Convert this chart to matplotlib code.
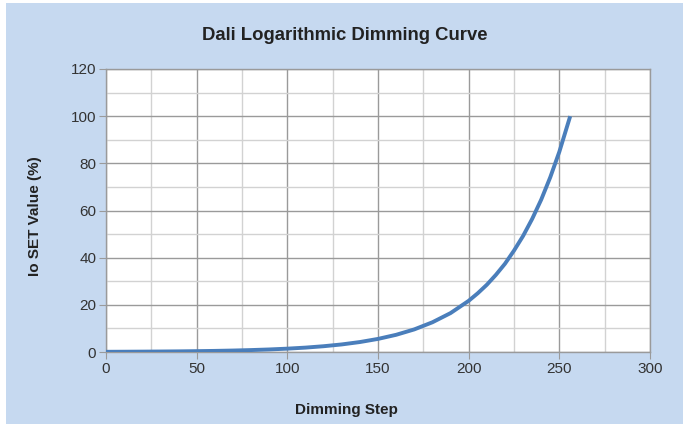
import matplotlib
matplotlib.use('Agg')
import matplotlib.pyplot as plt
from matplotlib.patches import Rectangle
from matplotlib.ticker import MultipleLocator

# values
steps = [0, 10, 20, 30, 40, 50, 60, 70, 80, 90, 100, 110, 120, 130, 140, 150,
         160, 170, 180, 190, 200, 205, 210, 215, 220, 225, 230, 235, 240, 245,
         250, 256]
io_set = [0.09, 0.12, 0.16, 0.21, 0.27, 0.36, 0.47, 0.62, 0.82, 1.08, 1.42,
          1.86, 2.45, 3.21, 4.22, 5.55, 7.29, 9.58, 12.6, 16.5, 21.7, 24.9,
          28.5, 32.7, 37.4, 43.0, 49.2, 56.4, 64.6, 74.1, 84.9, 100.0]

plt.rcParams['font.family'] = ['Liberation Sans', 'DejaVu Sans']

fig = plt.figure(figsize=(6.89, 4.24), dpi=100)
fig.patch.set_facecolor('white')
bg = Rectangle((6 / 689, 0), 677 / 689, 421 / 424, transform=fig.transFigure,
               facecolor='#c6d9f0', edgecolor='none', zorder=-10)
fig.patches.append(bg)

ax = fig.add_axes([106 / 689, 1 - 352 / 424, 544 / 689, 283 / 424])
ax.set_facecolor('white')
ax.plot(steps, io_set, color='#4a7ebb', linewidth=2.8, solid_capstyle='butt',
        zorder=3)

ax.set_xlim(0, 300)
ax.set_ylim(0, 120)
ax.xaxis.set_major_locator(MultipleLocator(50))
ax.xaxis.set_minor_locator(MultipleLocator(25))
ax.yaxis.set_major_locator(MultipleLocator(20))
ax.yaxis.set_minor_locator(MultipleLocator(10))
ax.grid(which='major', color='#9a9a9a', linewidth=1.0)
ax.grid(which='minor', color='#d2d2d2', linewidth=1.0)
ax.set_axisbelow(True)
for s in ax.spines.values():
    s.set_color('#9a9a9a')
    s.set_linewidth(1.0)
ax.tick_params(which='major', length=5, color='#9a9a9a', labelsize=11,
               labelcolor='#333333', pad=2)
ax.tick_params(which='minor', length=0)

fig.text(0.5, 1 - 35 / 424, 'Dali Logarithmic Dimming Curve', ha='center',
         va='center', fontsize=13.3, fontweight='bold', color='#222222')
fig.text(346 / 689, 1 - 410 / 424, 'Dimming Step', ha='center', va='center',
         fontsize=11, fontweight='bold', color='#222222')
fig.text(35 / 689, 1 - 216 / 424, 'Io SET Value (%)', ha='center',
         va='center', rotation=90, fontsize=11, fontweight='bold',
         color='#222222')

fig.savefig('out.png', dpi=100)
